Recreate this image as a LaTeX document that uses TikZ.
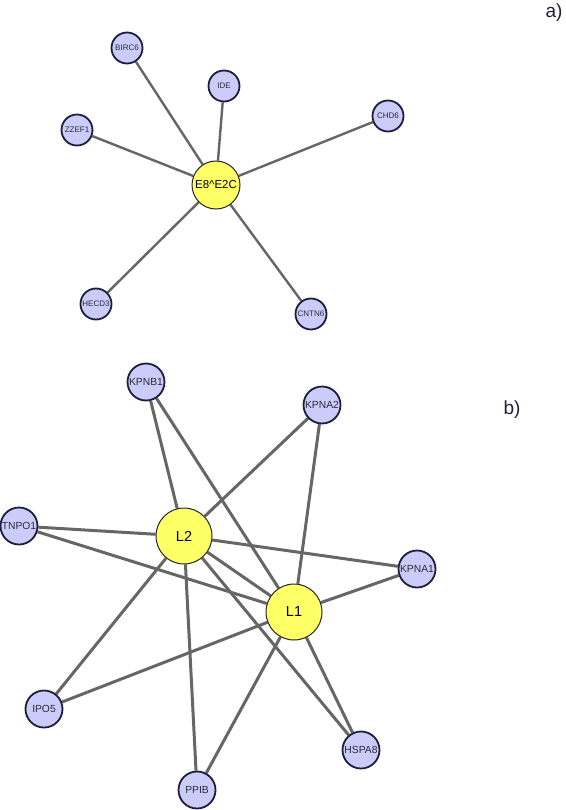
\documentclass[tikz,border=0pt]{standalone}
\usepackage{fontspec}
\setmainfont{Liberation Sans}
\usetikzlibrary{backgrounds}
\begin{document}
\begin{tikzpicture}[x=1pt,y=-1pt,
  smalla/.style={circle,draw=navyb,line width=1.8pt,fill=lav,minimum size=31pt,inner sep=0pt,font=\fontsize{8}{9}\selectfont,text=txt},
  smallb/.style={circle,draw=navyb,line width=1.8pt,fill=lav,minimum size=37pt,inner sep=0pt,font=\fontsize{10.3}{11}\selectfont,text=txt},
  hub/.style={circle,draw=black!85,line width=1pt,fill=yel,inner sep=0pt,text=black},
  hubb/.style={hub,minimum size=56pt,font=\fontsize{14.5}{15}\selectfont},
  edgea/.style={draw=edg,line width=2.4pt},
  edgeb/.style={draw=edg,line width=3pt},
  lab/.style={font=\fontsize{19}{22}\selectfont,text=navyb}]
\definecolor{lav}{HTML}{CCCCFA}
\definecolor{navyb}{HTML}{1E1E3C}
\definecolor{yel}{HTML}{FFFF66}
\definecolor{edg}{HTML}{666666}
\definecolor{txt}{HTML}{2A2A3A}
\useasboundingbox (0,0) rectangle (565,810);
% part a
\node[hub,minimum size=48pt,font=\fontsize{11.5}{12}\selectfont] (e8) at (216,185) {E8\textasciicircum E2C};
\node[smalla] (birc6) at (127,48) {BIRC6};
\node[smalla] (ide) at (224,86) {IDE};
\node[smalla] (chd6) at (388,116) {CHD6};
\node[smalla] (zzef1) at (77,130) {ZZEF1};
\node[smalla] (hecd3) at (96,304) {HECD3};
\node[smalla] (cntn6) at (311,314) {CNTN6};
\node[lab] (la) at (554,13) {a)};
% part b
\node[hubb] (l2) at (184,536) {L2};
\node[hubb] (l1) at (294,612) {L1};
\node[smallb] (kpnb1) at (146,382) {KPNB1};
\node[smallb] (kpna2) at (322,405) {KPNA2};
\node[smallb] (tnpo1) at (19,526) {TNPO1};
\node[smallb] (kpna1) at (417,569) {KPNA1};
\node[smallb] (ipo5) at (44,709) {IPO5};
\node[smallb] (hspa8) at (361,750) {HSPA8};
\node[smallb] (ppib) at (197,790) {PPIB};
\node[lab] (lb) at (512,410) {b)};
% edges
\begin{scope}[on background layer]
\foreach \n in {birc6,ide,chd6,zzef1,hecd3,cntn6}{\draw[edgea] (e8) -- (\n);}
\foreach \n in {kpnb1,kpna2,tnpo1,kpna1,ipo5,ppib,hspa8}{\draw[edgeb] (l2) -- (\n); \draw[edgeb] (l1) -- (\n);}
\draw[edgeb] (l2) -- (l1);
\end{scope}
\end{tikzpicture}
\end{document}
